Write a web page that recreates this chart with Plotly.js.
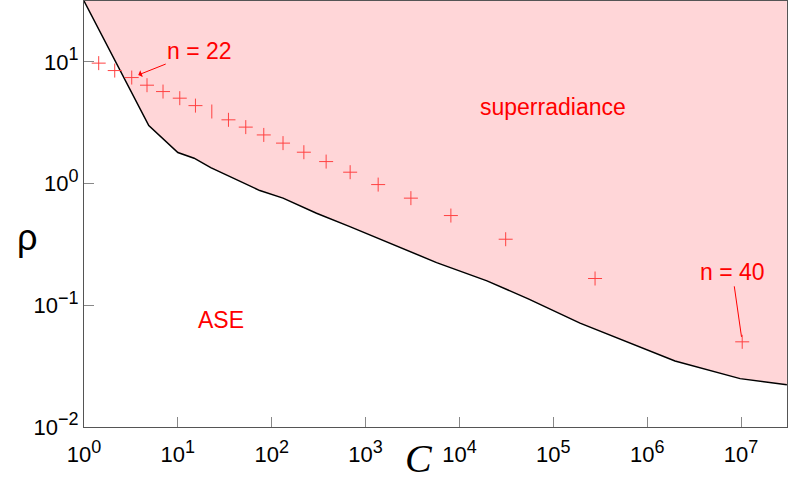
<!DOCTYPE html>
<html>
<head>
<meta charset="utf-8">
<script src="https://cdn.plot.ly/plotly-3.0.1.min.js"></script>
<style>
  html, body { margin: 0; padding: 0; background: #fff; }
  #chart { width: 789px; height: 497px; }
</style>
</head>
<body>
<div id="chart"></div>
<script>
// Boundary between ASE and superradiance regions (C, rho)
const boundaryC   = [1, 4.90, 10.0, 14.9, 22.4, 38.8, 74.7, 132, 300, 680, 1970, 5710, 19650, 54150, 192600, 1.98e6, 9.78e6, 3.08e7];
const boundaryRho = [31.62, 3.0, 1.80, 1.617, 1.353, 1.108, 0.876, 0.759, 0.571, 0.443, 0.3135, 0.2243, 0.1587, 0.1129, 0.0713, 0.0349, 0.02497, 0.0222];
const topRho = 31.62;

// Points for n = 20 ... 40
const nValues  = [20, 21, 22, 23, 24, 25, 26, 27, 28, 29, 30, 31, 32, 33, 34, 35, 36, 37, 38, 39, 40];
const pointC   = [1.434, 2.125, 3.225, 4.69, 6.95, 10.48, 15.4, 23.0, 34.6, 52.9, 82.3, 132, 220, 380, 685, 1362, 3040, 8110, 31100, 278600, 1.03e7];
const pointRho = [9.76, 8.48, 7.43, 6.43, 5.70, 5.03, 4.37, 3.91, 3.34, 2.91, 2.51, 2.15, 1.81, 1.516, 1.24, 0.981, 0.759, 0.546, 0.349, 0.166, 0.0501];

// Axis ticks
const xTickVals = [1, 10, 100, 1e3, 1e4, 1e5, 1e6, 1e7];
const xTickExp  = ['0', '1', '2', '3', '4', '5', '6', '7'];
const yTickVals = [0.01, 0.1, 1, 10];
const yTickExp  = ['\u22122', '\u22121', '0', '1'];

const pow10 = e => '10<sup><span style="font-size:18px">' + e + '</span></sup>';

const red = '#ff0000';
const markerRed = '#ff4242';
const sans = 'Liberation Sans, Arial, Helvetica, sans-serif';

const symbols = nValues.map(n => n === 27 ? 'line-ns' : 'cross-thin');

const traces = [
  {
    x: boundaryC.concat([boundaryC[boundaryC.length - 1]]),
    y: boundaryRho.concat([topRho]),
    type: 'scatter', mode: 'lines',
    fill: 'toself', fillcolor: '#ffd6d8',
    line: {width: 0, color: 'rgba(0,0,0,0)'},
    hoverinfo: 'skip'
  },
  {
    x: boundaryC, y: boundaryRho,
    type: 'scatter', mode: 'lines',
    line: {color: '#000', width: 1.5},
    hoverinfo: 'skip'
  },
  {
    x: pointC, y: pointRho,
    type: 'scatter', mode: 'markers',
    marker: {symbol: symbols, size: 10, color: markerRed, line: {color: markerRed, width: 1}},
    text: nValues.map(n => 'n = ' + n)
  },
  {
    // invisible carrier so the inside-tick overlay axis is drawn
    x: [boundaryC[0]], y: [boundaryRho[0]], xaxis: 'x2', yaxis: 'y',
    type: 'scatter', mode: 'markers', marker: {opacity: 0}, hoverinfo: 'skip'
  }
];

const lg = v => Math.log10(v);
const i22 = nValues.indexOf(22), i40 = nValues.indexOf(40);

const layout = {
  width: 789, height: 497,
  margin: {l: 84, r: 2, t: 1, b: 70},
  paper_bgcolor: '#fff', plot_bgcolor: '#fff',
  showlegend: false,
  xaxis: {
    type: 'log', range: [0, 7.49],
    tickvals: xTickVals, ticktext: xTickExp.map(pow10),
    ticks: 'outside', ticklen: 8, tickcolor: 'rgba(0,0,0,0)', tickwidth: 1,
    showline: true, linecolor: '#555', linewidth: 1, mirror: true,
    showgrid: false, zeroline: false,
    tickfont: {family: sans, size: 22, color: '#000'}
  },
  xaxis2: {
    type: 'log', range: [0, 7.49], overlaying: 'x', anchor: 'y', side: 'bottom',
    tickvals: xTickVals, showticklabels: false,
    ticks: 'inside', ticklen: 10, tickcolor: '#888', tickwidth: 1,
    showline: false, showgrid: false, zeroline: false
  },
  yaxis: {
    type: 'log', range: [-2, 1.5],
    tickvals: yTickVals, ticktext: yTickExp.map(pow10),
    ticks: 'inside', ticklen: 10, tickcolor: '#888', tickwidth: 1,
    showline: true, linecolor: '#555', linewidth: 1, mirror: true,
    showgrid: false, zeroline: false,
    tickfont: {family: sans, size: 22, color: '#000'}
  },
  annotations: [
    {
      x: lg(pointC[i22]), y: lg(pointRho[i22]), xref: 'x', yref: 'y',
      text: 'n = 22', showarrow: true, ax: 68, ay: -27,
      arrowhead: 1, arrowsize: 1.2, arrowwidth: 1, arrowcolor: red, standoff: 7,
      font: {family: sans, size: 23, color: red}
    },
    {
      x: lg(pointC[i40]), y: lg(pointRho[i40]), xref: 'x', yref: 'y',
      text: 'n = 40', showarrow: true, ax: -10, ay: -70,
      arrowhead: 0, arrowwidth: 1, arrowcolor: red, standoff: 5,
      font: {family: sans, size: 23, color: red}
    },
    {
      x: 5.0, y: lg(4.27), xref: 'x', yref: 'y',
      text: 'superradiance', showarrow: false,
      font: {family: sans, size: 23, color: red}
    },
    {
      x: lg(28.7), y: lg(0.0759), xref: 'x', yref: 'y',
      text: 'ASE', showarrow: false,
      font: {family: sans, size: 23, color: red}
    },
    {
      x: 0, y: 0, xref: 'paper', yref: 'paper', showarrow: false,
      text: '<i>C</i>', font: {family: 'Liberation Serif, Times New Roman, serif', size: 40, color: '#000'}
    },
    {
      x: 0, y: 0, xref: 'paper', yref: 'paper', showarrow: false,
      text: '\u03c1', font: {family: sans, size: 36, color: '#000'}
    }
  ]
};

// position the axis-title annotations in pixel terms relative to plot area
(function () {
  const W = 789 - 84 - 2, H = 497 - 1 - 70;
  const cAnn = layout.annotations[4];
  cAnn.x = (419 - 84) / W; cAnn.y = (497 - 70 - 483) / H;
  const rAnn = layout.annotations[5];
  rAnn.x = (15 - 84) / W; rAnn.y = (497 - 70 - 237) / H;
})();

Plotly.newPlot('chart', traces, layout, {displayModeBar: false, staticPlot: true});
</script>
</body>
</html>
